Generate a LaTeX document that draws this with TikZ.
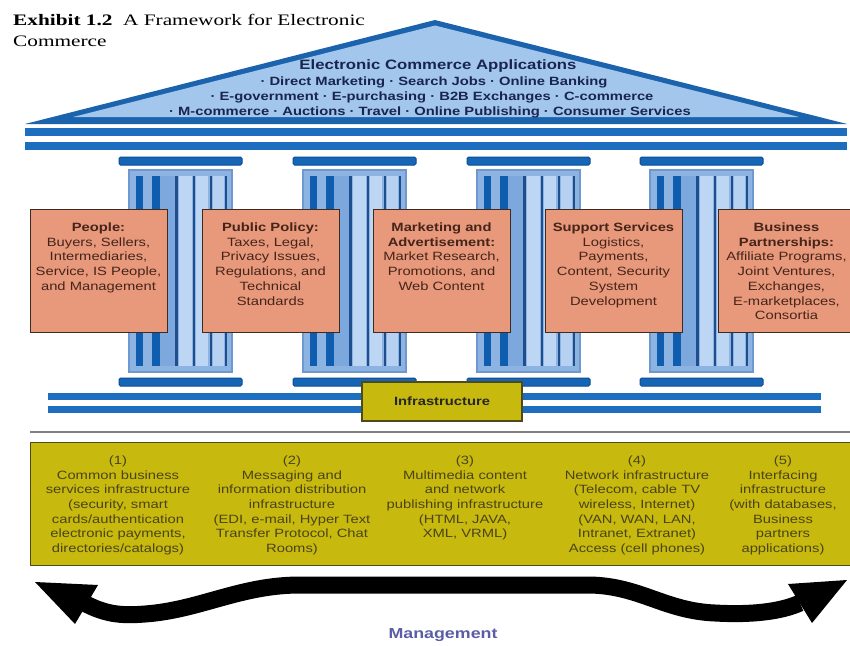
\documentclass[tikz,border=0pt]{standalone}
\usepackage{fontspec}
\newfontfamily\sfw[FakeStretch=1.23]{Liberation Sans}
\newfontfamily\serifw[FakeStretch=1.33]{Liberation Serif}
\definecolor{roofdark}{HTML}{1C63AD}
\definecolor{rooflight}{HTML}{A3C6EC}
\definecolor{bandblue}{HTML}{1E6EC0}
\definecolor{capblue}{HTML}{1666B8}
\definecolor{capedge}{HTML}{0B4C90}
\definecolor{shaftfill}{HTML}{8DB3E3}
\definecolor{shaftedge}{HTML}{6F98CF}
\definecolor{stripdark}{HTML}{0F5DAE}
\definecolor{stripmid}{HTML}{7DA8DD}
\definecolor{stripnavy}{HTML}{1F4E8E}
\definecolor{striplight}{HTML}{BCD6F3}
\definecolor{orangefill}{HTML}{E8987B}
\definecolor{orangeedge}{HTML}{3D2B22}
\definecolor{orangetext}{HTML}{45251A}
\definecolor{yellowfill}{HTML}{C8B90E}
\definecolor{yellowedge}{HTML}{4E4A1C}
\definecolor{yellowtext}{HTML}{4A4418}
\definecolor{pedtext}{HTML}{18254F}
\definecolor{mgmt}{HTML}{5B5EA6}
\newcommand{\mypillar}[1]{%
  \begin{scope}[shift={(#1,0)}]
    \fill[capblue,draw=capedge,line width=1pt,rounded corners=1.5pt] (-10,157) rectangle (113,165);
    \fill[shaftfill,draw=shaftedge,line width=1.5pt] (0,170) rectangle (103,372);
    \fill[stripdark] (7,176) rectangle (14,366);
    \fill[stripdark] (23,176) rectangle (31,366);
    \fill[stripmid] (31,176) rectangle (46,366);
    \fill[striplight] (50,176) rectangle (63,366);
    \fill[striplight] (67,176) rectangle (79,366);
    \fill[striplight!90!stripmid] (84,176) rectangle (95,366);
    \foreach \lx in {47.5,65,82,97}
      \draw[stripnavy,line width=2.2pt] (\lx,176) -- (\lx,366);
    \fill[capblue,draw=capedge,line width=1pt,rounded corners=1.5pt] (-10,378) rectangle (113,386);
  \end{scope}}
\tikzset{
  obox/.style={draw=orangeedge,fill=orangefill,line width=1.4pt,inner sep=0pt,
    minimum width=137pt,minimum height=123pt,anchor=north west},
  otext/.style={anchor=north,inner sep=0pt,align=center,text=orangetext,
    font=\sfw\fontsize{12}{14.75}\selectfont},
  ytext/.style={anchor=north,inner sep=0pt,align=center,text=yellowtext,
    font=\sfw\fontsize{12}{14.6}\selectfont},
  pedline/.style={anchor=base,inner sep=0pt,text=pedtext,
    font=\sfw\bfseries\fontsize{12}{14}\selectfont},
  band/.style={fill=bandblue}
}
\begin{document}
\begin{tikzpicture}[x=1pt,y=-1pt]
\useasboundingbox (0,0) rectangle (850,645);
\fill[white] (0,0) rectangle (850,645);
% title
\node[anchor=north west,inner sep=0pt,align=left,font=\serifw\fontsize{16}{21}\selectfont] (title) at (13,14)
  {\textbf{Exhibit 1.2}\ \ A Framework for Electronic\\Commerce};
% roof
\fill[roofdark] (25,124) -- (435,20) -- (847,124) -- cycle;
\fill[rooflight] (73,117) -- (435,25.5) -- (799,117) -- cycle;
\node[pedline,font=\sfw\bfseries\fontsize{13.6}{14}\selectfont] (ped0) at (438,69.5) {Electronic Commerce Applications};
\node[pedline] (ped1) at (434,85) {· Direct Marketing · Search Jobs · Online Banking};
\node[pedline] (ped2) at (432,100) {· E-government · E-purchasing · B2B Exchanges · C-commerce};
\node[pedline] (ped3) at (430,115) {· M-commerce · Auctions · Travel · Online Publishing · Consumer Services};
% entablature bands
\fill[band] (25,128) rectangle (847,136);
\fill[band] (25,142) rectangle (847,150);
% pillars
\mypillar{129}
\mypillar{303}
\mypillar{477}
\mypillar{650}
% lower bands
\fill[band] (48,393) rectangle (821,400);
\fill[band] (48,406) rectangle (821,413);
% orange boxes
\node[obox] (b1) at (30,209) {};
\node[obox] (b2) at (202,209) {};
\node[obox] (b3) at (373,209) {};
\node[obox] (b4) at (545,209) {};
\node[obox] (b5) at (718,209) {};
\node[otext] (t1) at (98.5,222.5) {\textbf{People:}\\Buyers, Sellers,\\Intermediaries,\\Service, IS People,\\and Management};
\node[otext] (t2) at (270.5,222.5) {\textbf{Public Policy:}\\Taxes, Legal,\\Privacy Issues,\\Regulations, and\\Technical\\Standards};
\node[otext] (t3) at (441.5,222.5) {\textbf{Marketing and}\\\textbf{Advertisement:}\\Market Research,\\Promotions, and\\Web Content};
\node[otext] (t4) at (613.5,222.5) {\textbf{Support Services}\\Logistics,\\Payments,\\Content, Security\\System\\Development};
\node[otext] (t5) at (786.5,222.5) {\textbf{Business}\\\textbf{Partnerships:}\\Affiliate Programs,\\Joint Ventures,\\Exchanges,\\E-marketplaces,\\Consortia};
% infrastructure
\node[draw=yellowedge,fill=yellowfill,line width=1.4pt,minimum width=160pt,minimum height=39pt,
  text=black!85,font=\sfw\bfseries\fontsize{12}{14}\selectfont] (infra) at (442,401.5) {Infrastructure};
% separator
\coordinate (sepL) at (30,431.5);
\coordinate (sepR) at (850,431.5);
\draw[gray,line width=2pt] (sepL) -- (sepR);
% bottom box
\node[draw=yellowedge,fill=yellowfill,line width=1.4pt,minimum width=826pt,minimum height=123pt,
  anchor=north west,inner sep=0pt] (ybox) at (30,442) {};
\node[ytext] (y1) at (118,455.7) {(1)\\Common business\\services infrastructure\\(security, smart\\cards/authentication\\electronic payments,\\directories/catalogs)};
\node[ytext] (y2) at (292,455.7) {(2)\\Messaging and\\information distribution\\infrastructure\\(EDI, e-mail, Hyper Text\\Transfer Protocol, Chat\\Rooms)};
\node[ytext] (y3) at (465,455.7) {(3)\\Multimedia content\\and network\\publishing infrastructure\\(HTML, JAVA,\\XML, VRML)};
\node[ytext] (y4) at (637,455.7) {(4)\\Network infrastructure\\(Telecom, cable TV\\wireless, Internet)\\(VAN, WAN, LAN,\\Intranet, Extranet)\\Access (cell phones)};
\node[ytext] (y5) at (783,455.7) {(5)\\Interfacing\\infrastructure\\(with databases,\\Business\\partners\\applications)};
% management arrow
\coordinate (sL) at (84,603);
\coordinate (sR) at (800,603);
\draw[black,line width=17pt] (sL) .. controls (105,614) and (120,616) .. (145,614)
  .. controls (200,610) and (240,585) .. (300,585) -- (590,585)
  .. controls (640,586) and (665,611) .. (715,613)
  .. controls (750,615) and (780,612) .. (sR);
\coordinate (tipL) at (35,582);
\coordinate (tipR) at (847,580);
\fill[black] (tipL) -- (98,585) -- (75,624) -- cycle;
\fill[black] (tipR) -- (788,584) -- (812,623) -- cycle;
\node[text=mgmt,font=\sfw\bfseries\fontsize{14.5}{16}\selectfont,inner sep=0pt] (mg) at (443,635) {Management};
\end{tikzpicture}
\end{document}
